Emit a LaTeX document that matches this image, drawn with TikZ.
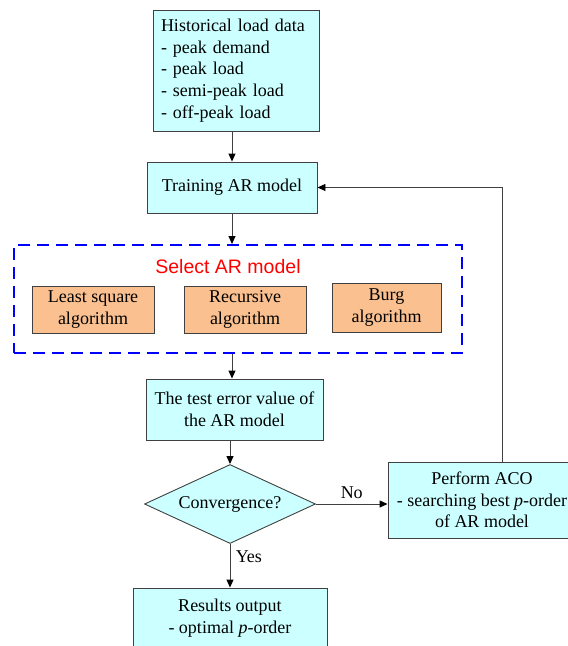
\documentclass[tikz,border=0pt]{standalone}
\usepackage{fontspec}
\setmainfont{Liberation Serif}
\newfontfamily\titlefont{Liberation Sans}
\usepackage{xcolor}
\usepackage{tikz}
\usetikzlibrary{arrows.meta,positioning,calc,shapes.geometric}

\definecolor{boxcyan}{HTML}{CCFFFF}
\definecolor{boxorange}{HTML}{FAC090}
\definecolor{edgegray}{HTML}{404040}

\begin{document}
\begin{tikzpicture}[x=1pt,y=-1pt,
  every node/.style={font=\fontsize{18}{21.7}\selectfont},
  cbox/.style={draw=edgegray,line width=0.9pt,fill=boxcyan,align=center,inner sep=0pt},
  obox/.style={draw=edgegray,line width=0.9pt,fill=boxorange,align=center,inner sep=0pt},
  arr/.style={draw=edgegray,line width=0.9pt,-{Triangle[length=8pt,width=7pt,color=black]}}]
  \useasboundingbox (0,0) rectangle (568,646);
  \clip (0,0) rectangle (568,646);
  % input data
  \node[cbox,minimum width=166pt,minimum height=121pt,align=left,text width=150pt]
    (hist) at (236,70.5) {Historical load data\\- peak demand\\- peak load\\- semi-peak load\\- off-peak load};
  \node[cbox,minimum width=170pt,minimum height=51pt] (train) at (232,187.5) {Training AR model};
  % selection of the algorithm
  \node[draw=blue,line width=2pt,dash pattern=on 12pt off 7pt,minimum width=448pt,minimum height=108pt]
    (sel) at (238,299) {};
  \node[text=red,font=\titlefont\fontsize{19.5}{22}\selectfont] (seltitle) at (228,267) {Select AR model};
  \node[obox,minimum width=122pt,minimum height=47pt] (lsq) at (93,309.5) {Least square\\algorithm};
  \node[obox,minimum width=122pt,minimum height=47pt] (rec) at (245,309.5) {Recursive\\algorithm};
  \node[obox,minimum width=109pt,minimum height=49pt] (burg) at (386.5,307.5) {Burg\\algorithm};
  % test and decision
  \node[cbox,minimum width=177pt,minimum height=61pt] (test) at (234.5,409.5) {The test error value of\\the AR model};
  \node[cbox,diamond,aspect=2.16,minimum width=171pt,minimum height=79pt] (conv) at (230,504) {Convergence?};
  \node[cbox,minimum width=188pt,minimum height=76pt] (aco) at (482,500)
    {Perform ACO\\- searching best \textit{p}-order\\of AR model};
  \node[cbox,minimum width=194pt,minimum height=61pt] (res) at (230,618.5)
    {Results output\\- optimal \textit{p}-order};
  % connectors
  \draw[arr] (train.north |- hist.south) -- (train.north);
  \draw[arr] (train.south) -- (train.south |- sel.north);
  \draw[arr] (train.south |- sel.south) -- (train.south |- test.north);
  \draw[arr] (test.south -| conv.north) -- (conv.north);
  \draw[arr] (conv.east) -- node[above=2pt] (no) {No} (conv.east -| aco.west);
  \draw[arr] (conv.south) -- node[right=2pt,pos=0.3] (yes) {Yes} (conv.south |- res.north);
  \draw[arr] ([xshift=20pt]aco.north) |- (train.east);
\end{tikzpicture}
\end{document}
